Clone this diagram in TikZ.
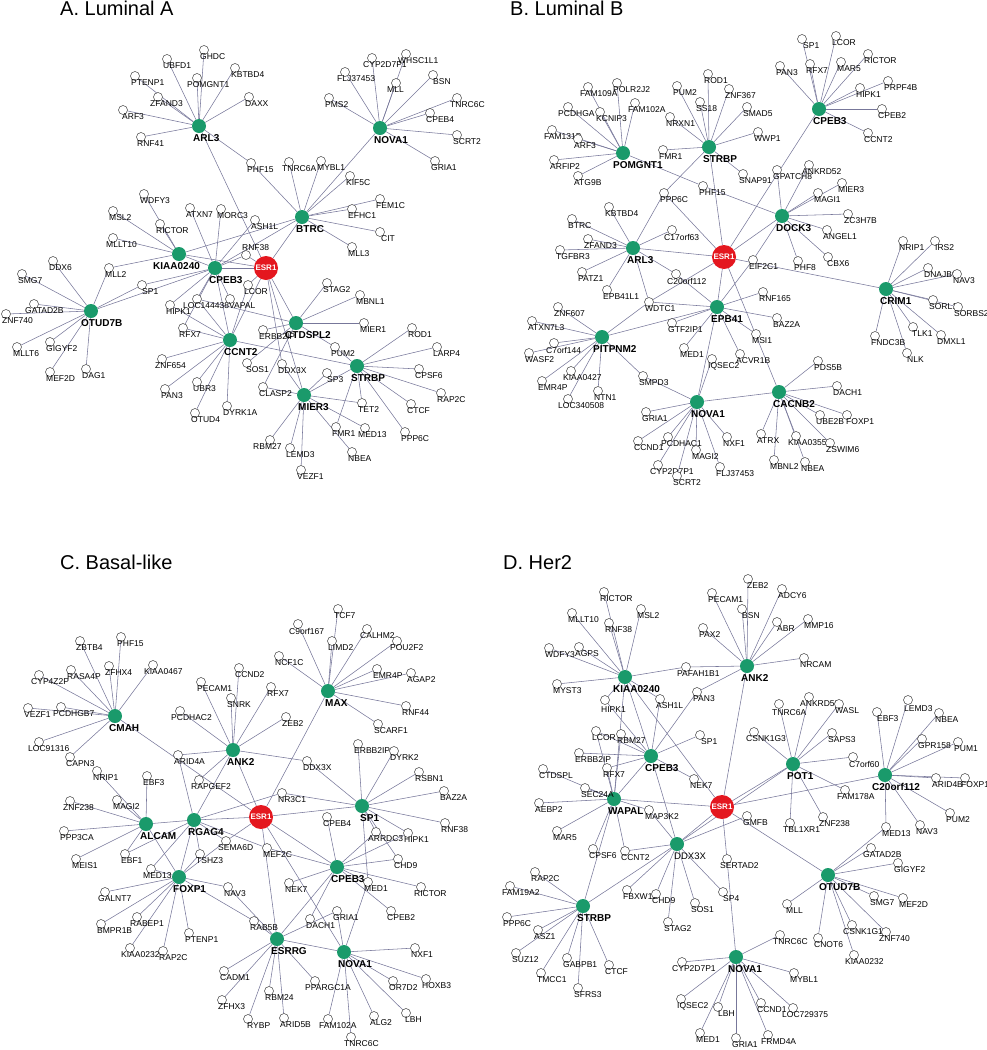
\documentclass[tikz,border=0pt]{standalone}
\usepackage{fontspec}
\setsansfont{Liberation Sans}
\usetikzlibrary{backgrounds}
\definecolor{hubgreen}{HTML}{1A9A6B}
\definecolor{esrred}{HTML}{E4171F}
\definecolor{edgegray}{HTML}{77779A}

\tikzset{
  leaf/.style={circle, draw=black!75, fill=white, line width=0.5pt, minimum size=9pt, inner sep=0pt},
  hubnode/.style={circle, fill=hubgreen, minimum size=14pt, inner sep=0pt},
  esr/.style={circle, fill=esrred, minimum size=24pt, inner sep=0pt, text=white,
    font=\sffamily\bfseries\fontsize{8}{8}\selectfont},
  glabel/.style={anchor=west, inner sep=0pt, font=\sffamily\fontsize{8.5}{9}\selectfont},
  hlabel/.style={anchor=west, inner sep=0pt, font=\sffamily\bfseries\fontsize{10}{11}\selectfont},
  plainhub/.style={font=\sffamily\fontsize{9.5}{10}\selectfont},
  panel/.style={anchor=base west, inner sep=0pt, font=\sffamily\fontsize{20}{22}\selectfont},
  link/.style={edgegray, line width=0.55pt},
}

% small gene: [label options]{name}{x}{y}{text}
\newcommand{\gene}[5][]{%
  \node[leaf] (#2) at (#3,#4) {};
  \node[glabel,#1] (#2-l) at ({#3-4},{#4+7}) {#5};}
% hub gene, label in bold below
\newcommand{\hub}[5][]{%
  \node[hubnode] (#2) at (#3,#4) {};
  \node[hlabel,#1] (#2-l) at ({#3-6},{#4+12}) {#5};}

\begin{document}
\begin{tikzpicture}[x=1pt, y=-1pt]
\useasboundingbox (0,0) rectangle (987,1050);

% ---------------- A. Luminal A
\node[panel] (a-title) at (60,15) {A. Luminal A};
\hub{a-arl3}{199}{126}{ARL3}
\hub{a-nova1}{380}{128}{NOVA1}
\hub{a-btrc}{302}{217}{BTRC}
\hub[xshift=-20pt]{a-kiaa0240}{179}{254}{KIAA0240}
\hub{a-cpeb3}{215}{268}{CPEB3}
\node[esr] (a-esr1) at (266,268) {ESR1};
\hub[xshift=-4pt]{a-otud7b}{91}{311}{OTUD7B}
\hub[xshift=-5pt]{a-ctdspl2}{296}{323}{CTDSPL2}
\hub{a-ccnt2}{230}{340}{CCNT2}
\hub{a-strbp}{357}{366}{STRBP}
\hub{a-mier3}{304}{395}{MIER3}

\gene{a-ghdc}{204}{50}{GHDC}
\gene{a-ubfd1}{167}{59}{UBFD1}
\gene{a-kbtbd4}{235}{68}{KBTBD4}
\gene{a-ptenp1}{135}{76}{PTENP1}
\gene[xshift=-6pt]{a-pomgnt1}{197}{78}{POMGNT1}
\gene[xshift=-4pt]{a-zfand3}{158}{97}{ZFAND3}
\gene{a-daxx}{249}{97}{DAXX}
\gene[xshift=3pt]{a-arf3}{123}{110}{ARF3}
\gene{a-rnf41}{141}{137}{RNF41}
\gene[xshift=-5pt]{a-cyp2d7p1}{372}{58}{CYP2D7P1}
\gene[xshift=-4pt]{a-whsc1l1}{406}{54}{WHSC1L1}
\gene[xshift=-4pt]{a-flj37453}{345}{72}{FLJ37453}
\gene[xshift=4pt]{a-bsn}{433}{75}{BSN}
\gene[xshift=-5pt]{a-mll}{396}{83}{MLL}
\gene{a-pms2}{329}{98}{PMS2}
\gene[xshift=-3pt]{a-tnrc6c}{457}{98}{TNRC6C}
\gene{a-cpeb4}{430}{113}{CPEB4}
\gene{a-scrt2}{457}{135}{SCRT2}
\gene{a-gria1}{435}{161}{GRIA1}
\gene{a-phf15}{251}{163}{PHF15}
\gene[xshift=-3pt]{a-tnrc6a}{289}{162}{TNRC6A}
\gene{a-mybl1}{321}{161}{MYBL1}
\gene{a-kif5c}{350}{176}{KIF5C}
\gene{a-fem1c}{380}{199}{FEM1C}
\gene{a-efhc1}{352}{209}{EFHC1}
\gene[xshift=5pt]{a-cit}{380}{232}{CIT}
\gene{a-mll3}{352}{247}{MLL3}
\gene{a-wdfy3}{144}{194}{WDFY3}
\gene{a-msl2}{113}{211}{MSL2}
\gene{a-atxn7}{190}{208}{ATXN7}
\gene{a-morc3}{221}{209}{MORC3}
\gene{a-ash1l}{255}{220}{ASH1L}
\gene{a-rictor}{160}{224}{RICTOR}
\gene[xshift=-3pt]{a-mllt10}{113}{238}{MLLT10}
\gene[yshift=14pt]{a-rnf38}{246}{255}{RNF38}
\gene{a-mll2}{109}{268}{MLL2}
\gene{a-ddx6}{53}{261}{DDX6}
\gene{a-smg7}{22}{274}{SMG7}
\gene{a-stag2}{327}{283}{STAG2}
\gene[xshift=4pt]{a-sp1}{142}{285}{SP1}
\gene{a-lcor}{248}{285}{LCOR}
\gene{a-mbnl1}{360}{295}{MBNL1}
\gene[xshift=-5pt]{a-gatad2b}{34}{304}{GATAD2B}
\gene{a-znf740}{6}{314}{ZNF740}
\gene{a-hipk1}{170}{305}{HIPK1}
\gene[xshift=-10pt]{a-loc144438}{197}{299}{LOC144438}
\gene[xshift=3pt]{a-vapal}{230}{299}{VAPAL}
\gene{a-mier1}{364}{323}{MIER1}
\gene{a-rfx7}{183}{328}{RFX7}
\gene{a-erbb2ip}{263}{330}{ERBB2IP}
\gene{a-rod1}{412}{328}{ROD1}
\gene{a-larp4}{437}{347}{LARP4}
\gene{a-pum2}{335}{347}{PUM2}
\gene[xshift=-3pt]{a-znf654}{162}{359}{ZNF654}
\gene[xshift=3pt]{a-sos1}{247}{363}{SOS1}
\gene{a-ddx3x}{282}{364}{DDX3X}
\gene{a-cpsf6}{419}{369}{CPSF6}
\gene[xshift=4pt]{a-sp3}{327}{373}{SP3}
\gene{a-mllt6}{17}{347}{MLLT6}
\gene{a-gigyf2}{50}{342}{GIGYF2}
\gene{a-mef2d}{50}{372}{MEF2D}
\gene{a-dag1}{86}{369}{DAG1}
\gene{a-pan3}{165}{389}{PAN3}
\gene{a-ubr3}{197}{382}{UBR3}
\gene{a-clasp2}{263}{387}{CLASP2}
\gene{a-rap2c}{441}{393}{RAP2C}
\gene{a-tet2}{362}{403}{TET2}
\gene{a-ctcf}{411}{404}{CTCF}
\gene{a-otud4}{195}{413}{OTUD4}
\gene{a-dyrk1a}{227}{406}{DYRK1A}
\gene{a-fmr1}{336}{427}{FMR1}
\gene[xshift=-3pt]{a-med13}{365}{428}{MED13}
\gene{a-ppp6c}{405}{432}{PPP6C}
\gene[xshift=-13pt]{a-rbm27}{270}{440}{RBM27}
\gene{a-lemd3}{290}{448}{LEMD3}
\gene{a-vezf1}{301}{470}{VEZF1}
\gene{a-nbea}{352}{452}{NBEA}

% ---------------- B. Luminal B
\node[panel] (b-title) at (510,15) {B. Luminal B};
\hub{b-cpeb3}{819}{109}{CPEB3}
\hub{b-strbp}{709}{147}{STRBP}
\hub[xshift=-4pt]{b-pomgnt1}{623}{153}{POMGNT1}
\hub{b-dock3}{782}{216}{DOCK3}
\hub{b-arl3}{633}{248}{ARL3}
\node[esr] (b-esr1) at (724,257) {ESR1};
\hub{b-crim1}{886}{289}{CRIM1}
\hub{b-epb41}{717}{307}{EPB41}
\hub[xshift=-3pt]{b-pitpnm2}{602}{337}{PITPNM2}
\hub{b-cacnb2}{779}{392}{CACNB2}
\hub{b-nova1}{697}{402}{NOVA1}

\gene[xshift=5pt]{b-sp1}{802}{39}{SP1}
\gene{b-lcor}{836}{36}{LCOR}
\gene{b-rictor}{868}{54}{RICTOR}
\gene{b-pan3}{780}{66}{PAN3}
\gene{b-rfx7}{810}{64}{RFX7}
\gene{b-mar5}{841}{62}{MAR5}
\gene{b-prpf4b}{888}{81}{PRPF4B}
\gene{b-hipk1}{860}{88}{HIPK1}
\gene{b-cpeb2}{882}{109}{CPEB2}
\gene{b-ccnt2}{868}{133}{CCNT2}
\gene{b-rod1}{708}{74}{ROD1}
\gene{b-pum2}{677}{86}{PUM2}
\gene{b-znf367}{729}{89}{ZNF367}
\gene{b-ss18}{700}{102}{SS18}
\gene{b-smad5}{747}{107}{SMAD5}
\gene{b-nrxn1}{670}{117}{NRXN1}
\gene{b-wwp1}{758}{132}{WWP1}
\gene{b-fmr1}{663}{150}{FMR1}
\gene[xshift=-4pt]{b-fam109a}{588}{87}{FAM109A}
\gene{b-polr2j2}{617}{83}{POLR2J2}
\gene[xshift=-6pt]{b-pcdhga}{568}{107}{PCDHGA}
\gene{b-kcnip3}{600}{112}{KCNIP3}
\gene[xshift=-3pt]{b-fam102a}{635}{103}{FAM102A}
\gene[xshift=-4pt]{b-fam131b}{552}{130}{FAM131B}
\gene{b-arf3}{578}{139}{ARF3}
\gene{b-arfip2}{554}{160}{ARFIP2}
\gene{b-atg9b}{578}{176}{ATG9B}
\gene{b-snap91}{743}{174}{SNAP91}
\gene{b-gpatch8}{777}{170}{GPATCH8}
\gene[xshift=-3pt]{b-ankrd52}{809}{165}{ANKRD52}
\gene{b-mier3}{842}{183}{MIER3}
\gene{b-magi1}{818}{193}{MAGI1}
\gene{b-phf15}{703}{186}{PHF15}
\gene{b-ppp6c}{664}{193}{PPP6C}
\gene{b-zc3h7b}{848}{214}{ZC3H7B}
\gene{b-kbtbd4}{609}{207}{KBTBD4}
\gene{b-btrc}{572}{219}{BTRC}
\gene[xshift=-4pt]{b-c17orf63}{672}{230}{C17orf63}
\gene{b-angel1}{827}{230}{ANGEL1}
\gene{b-zfand3}{588}{239}{ZFAND3}
\gene{b-tgfbr3}{560}{250}{TGFBR3}
\gene{b-eif2c1}{753}{260}{EIF2C1}
\gene{b-phf8}{798}{261}{PHF8}
\gene[xshift=3pt]{b-cbx6}{828}{257}{CBX6}
\gene{b-nrip1}{903}{241}{NRIP1}
\gene[xshift=4pt]{b-irs2}{935}{241}{IRS2}
\gene{b-dnajb9}{928}{268}{DNAJB9}
\gene{b-nav3}{957}{274}{NAV3}
\gene{b-patz1}{582}{272}{PATZ1}
\gene[xshift=-5pt]{b-c20orf112}{676}{274}{C20orf112}
\gene{b-sorl1}{933}{300}{SORL1}
\gene{b-sorbs2}{958}{307}{SORBS2}
\gene{b-epb41l1}{607}{290}{EPB41L1}
\gene{b-rnf165}{763}{292}{RNF165}
\gene{b-wdtc1}{649}{302}{WDTC1}
\gene{b-znf607}{558}{307}{ZNF607}
\gene{b-atxn7l3}{532}{321}{ATXN7L3}
\gene[xshift=-4pt]{b-c7orf144}{554}{343}{C7orf144}
\gene{b-wasf2}{529}{353}{WASF2}
\gene{b-gtf2ip1}{672}{323}{GTF2IP1}
\gene{b-baz2a}{777}{318}{BAZ2A}
\gene{b-msi1}{756}{334}{MSI1}
\gene[xshift=3pt]{b-tlk1}{913}{327}{TLK1}
\gene{b-dmxl1}{941}{335}{DMXL1}
\gene{b-fndc3b}{875}{336}{FNDC3B}
\gene[xshift=4pt]{b-nlk}{907}{353}{NLK}
\gene{b-med1}{684}{348}{MED1}
\gene{b-acvr1b}{740}{354}{ACVR1B}
\gene{b-iqsec2}{712}{359}{IQSEC2}
\gene{b-pds5b}{818}{361}{PDS5B}
\gene[xshift=-4pt]{b-kiaa0427}{571}{371}{KIAA0427}
\gene{b-smpd3}{643}{376}{SMPD3}
\gene{b-emr4p}{542}{381}{EMR4P}
\gene{b-dach1}{837}{386}{DACH1}
\gene{b-ntn1}{598}{391}{NTN1}
\gene[xshift=-6pt]{b-loc340508}{568}{399}{LOC340508}
\gene{b-gria1}{646}{412}{GRIA1}
\gene{b-ube2b}{820}{415}{UBE2B}
\gene[xshift=3pt]{b-foxp1}{847}{415}{FOXP1}
\gene{b-atrx}{761}{434}{ATRX}
\gene[xshift=-4pt]{b-kiaa0355}{796}{436}{KIAA0355}
\gene{b-zswim6}{830}{443}{ZSWIM6}
\gene{b-ccnd1}{638}{441}{CCND1}
\gene[xshift=-3pt]{b-pcdhac1}{668}{437}{PCDHAC1}
\gene{b-nxf1}{727}{437}{NXF1}
\gene{b-magi2}{696}{450}{MAGI2}
\gene{b-mbnl2}{774}{460}{MBNL2}
\gene{b-nbea}{805}{462}{NBEA}
\gene[xshift=-4pt]{b-cyp2d7p1}{658}{465}{CYP2D7P1}
\gene{b-flj37453}{720}{467}{FLJ37453}
\gene{b-scrt2}{677}{476}{SCRT2}

% ---------------- C. Basal-like
\node[panel] (c-title) at (60,569) {C. Basal-like};
\hub[xshift=3pt]{c-max}{328}{691}{MAX}
\hub{c-cmah}{115}{716}{CMAH}
\hub{c-ank2}{233}{750}{ANK2}
\hub[xshift=4pt]{c-sp1}{362}{806}{SP1}
\node[esr] (c-esr1) at (261,817) {ESR1};
\hub{c-rgag4}{194}{820}{RGAG4}
\hub{c-alcam}{146}{824}{ALCAM}
\hub{c-foxp1}{179}{877}{FOXP1}
\hub{c-cpeb3}{337}{867}{CPEB3}
\hub{c-esrrg}{277}{939}{ESRRG}
\hub{c-nova1}{344}{952}{NOVA1}

\gene{c-tcf7}{338}{609}{TCF7}
\gene[xshift=-5pt]{c-c9orf167}{298}{624}{C9orf167}
\gene[xshift=-3pt]{c-calhm2}{367}{629}{CALHM2}
\gene{c-limd2}{332}{641}{LIMD2}
\gene[xshift=-3pt]{c-pou2f2}{397}{641}{POU2F2}
\gene{c-zbtb4}{80}{641}{ZBTB4}
\gene{c-phf15}{121}{637}{PHF15}
\gene{c-ncf1c}{279}{656}{NCF1C}
\gene{c-rasa4p}{71}{670}{RASA4P}
\gene{c-zfhx4}{109}{666}{ZFHX4}
\gene[xshift=-5pt]{c-kiaa0467}{153}{665}{KIAA0467}
\gene[xshift=-4pt]{c-cyp4z2p}{39}{675}{CYP4Z2P}
\gene{c-ccnd2}{239}{668}{CCND2}
\gene{c-emr4p}{377}{669}{EMR4P}
\gene{c-agap2}{411}{673}{AGAP2}
\gene{c-pecam1}{201}{682}{PECAM1}
\gene{c-rfx7}{271}{687}{RFX7}
\gene{c-snrk}{231}{698}{SNRK}
\gene{c-rnf44}{406}{706}{RNF44}
\gene{c-vezf1}{28}{708}{VEZF1}
\gene[xshift=-4pt]{c-pcdhgb7}{61}{707}{PCDHGB7}
\gene[xshift=-5pt]{c-pcdhac2}{180}{711}{PCDHAC2}
\gene{c-zeb2}{286}{717}{ZEB2}
\gene{c-scarf1}{378}{724}{SCARF1}
\gene[xshift=-7pt]{c-loc91316}{39}{742}{LOC91316}
\gene{c-arid4a}{178}{755}{ARID4A}
\gene{c-ddx3x}{307}{761}{DDX3X}
\gene{c-erbb2ip}{358}{744}{ERBB2IP}
\gene{c-dyrk2}{394}{751}{DYRK2}
\gene{c-capn3}{70}{757}{CAPN3}
\gene{c-nrip1}{97}{771}{NRIP1}
\gene{c-rsbn1}{419}{772}{RSBN1}
\gene{c-ebf3}{147}{776}{EBF3}
\gene[xshift=-4pt]{c-rapgef2}{199}{780}{RAPGEF2}
\gene{c-baz2a}{444}{791}{BAZ2A}
\gene[xshift=-3pt]{c-znf238}{70}{801}{ZNF238}
\gene{c-magi2}{117}{800}{MAGI2}
\gene{c-nr3c1}{282}{793}{NR3C1}
\gene{c-cpeb4}{327}{817}{CPEB4}
\gene{c-ppp3ca}{64}{831}{PPP3CA}
\gene{c-rnf38}{445}{823}{RNF38}
\gene[xshift=-4pt]{c-arrdc3}{376}{832}{ARRDC3}
\gene{c-hipk1}{408}{833}{HIPK1}
\gene[xshift=-4pt]{c-sema6d}{226}{841}{SEMA6D}
\gene{c-mef2c}{267}{848}{MEF2C}
\gene{c-ebf1}{125}{854}{EBF1}
\gene{c-tshz3}{200}{854}{TSHZ3}
\gene{c-chd9}{398}{859}{CHD9}
\gene{c-meis1}{76}{859}{MEIS1}
\gene[xshift=-4pt]{c-med13}{151}{869}{MED13}
\gene{c-nav3}{228}{887}{NAV3}
\gene{c-nek7}{289}{883}{NEK7}
\gene{c-med1}{368}{882}{MED1}
\gene[xshift=-3pt]{c-rictor}{421}{887}{RICTOR}
\gene[xshift=-3pt]{c-galnt7}{105}{892}{GALNT7}
\gene{c-gria1}{337}{911}{GRIA1}
\gene{c-cpeb2}{391}{911}{CPEB2}
\gene[xshift=-3pt]{c-rabep1}{137}{917}{RABEP1}
\gene{c-dach1}{310}{919}{DACH1}
\gene{c-rab5b}{254}{921}{RAB5B}
\gene{c-bmpr1b}{101}{924}{BMPR1B}
\gene{c-ptenp1}{189}{933}{PTENP1}
\gene{c-nxf1}{415}{948}{NXF1}
\gene[xshift=-5pt]{c-kiaa0232}{130}{948}{KIAA0232}
\gene{c-rap2c}{163}{951}{RAP2C}
\gene{c-cadm1}{224}{971}{CADM1}
\gene{c-or7d2}{393}{981}{OR7D2}
\gene{c-hoxb3}{426}{979}{HOXB3}
\gene[xshift=-6pt]{c-ppargc1a}{315}{981}{PPARGC1A}
\gene{c-rbm24}{269}{991}{RBM24}
\gene{c-zfhx3}{222}{1000}{ZFHX3}
\gene{c-alg2}{374}{1016}{ALG2}
\gene[xshift=3pt]{c-lbh}{406}{1013}{LBH}
\gene[xshift=3pt]{c-rybp}{248}{1019}{RYBP}
\gene{c-arid5b}{284}{1018}{ARID5B}
\gene[xshift=-5pt]{c-fam102a}{328}{1019}{FAM102A}
\gene[xshift=-3pt]{c-tnrc6c}{351}{1037}{TNRC6C}

% ---------------- D. Her2
\node[panel] (d-title) at (503,569) {D. Her2};
\hub{d-ank2}{747}{666}{ANK2}
\hub[xshift=-6pt]{d-kiaa0240}{625}{677}{KIAA0240}
\hub{d-cpeb3}{651}{756}{CPEB3}
\hub{d-pot1}{793}{764}{POT1}
\hub[xshift=-7pt]{d-c20orf112}{885}{775}{C20orf112}
\hub{d-wapal}{614}{799}{WAPAL}
\node[esr] (d-esr1) at (722,807) {ESR1};
\hub[xshift=3pt, plainhub]{d-ddx3x}{677}{844}{DDX3X}
\hub[xshift=-3pt]{d-otud7b}{828}{875}{OTUD7B}
\hub{d-strbp}{583}{906}{STRBP}
\hub[xshift=-2pt]{d-nova1}{736}{957}{NOVA1}

\gene[xshift=3pt]{d-zeb2}{748}{579}{ZEB2}
\gene{d-rictor}{604}{592}{RICTOR}
\gene{d-pecam1}{712}{593}{PECAM1}
\gene{d-adcy6}{782}{589}{ADCY6}
\gene{d-mllt10}{572}{613}{MLLT10}
\gene{d-msl2}{641}{609}{MSL2}
\gene[xshift=4pt]{d-bsn}{742}{609}{BSN}
\gene{d-rnf38}{609}{623}{RNF38}
\gene[xshift=4pt]{d-abr}{777}{622}{ABR}
\gene{d-mmp16}{808}{619}{MMP16}
\gene{d-pax2}{703}{628}{PAX2}
\gene{d-wdfy3}{549}{648}{WDFY3}
\gene{d-agps}{579}{647}{AGPS}
\gene{d-nrcam}{804}{658}{NRCAM}
\gene[xshift=-5pt]{d-pafah1b1}{686}{667}{PAFAH1B1}
\gene{d-myst3}{557}{684}{MYST3}
\gene{d-pan3}{697}{692}{PAN3}
\gene{d-ash1l}{660}{699}{ASH1L}
\gene[yshift=-3pt]{d-hipk1}{605}{700}{HIPK1}
\gene[xshift=-5pt]{d-ankrd50}{809}{697}{ANKRD50}
\gene[xshift=-3pt,yshift=-2pt]{d-tnrc6a}{779}{704}{TNRC6A}
\gene{d-wasl}{839}{704}{WASL}
\gene[xshift=4pt]{d-ebf3}{877}{712}{EBF3}
\gene[yshift=-2pt]{d-lemd3}{908}{700}{LEMD3}
\gene{d-nbea}{939}{713}{NBEA}
\gene{d-lcor}{596}{731}{LCOR}
\gene{d-rbm27}{621}{734}{RBM27}
\gene[xshift=5pt]{d-sp1}{700}{735}{SP1}
\gene[xshift=-4pt]{d-csnk1g3}{754}{732}{CSNK1G3}
\gene{d-saps3}{832}{733}{SAPS3}
\gene{d-gpr158}{922}{739}{GPR158}
\gene{d-pum1}{958}{742}{PUM1}
\gene{d-erbb2ip}{579}{753}{ERBB2IP}
\gene{d-c7orf60}{853}{757}{C7orf60}
\gene{d-ctdspl}{543}{769}{CTDSPL}
\gene{d-rfx7}{607}{768}{RFX7}
\gene{d-nek7}{694}{779}{NEK7}
\gene{d-arid4b}{936}{778}{ARID4B}
\gene{d-foxp1}{965}{778}{FOXP1}
\gene{d-sec24a}{585}{788}{SEC24A}
\gene[xshift=-4pt]{d-fam178a}{845}{790}{FAM178A}
\gene{d-aebp2}{539}{803}{AEBP2}
\gene{d-map3k2}{649}{810}{MAP3K2}
\gene{d-gmfb}{747}{816}{GMFB}
\gene[xshift=-3pt]{d-tbl1xr1}{790}{823}{TBL1XR1}
\gene{d-znf238}{823}{817}{ZNF238}
\gene{d-pum2}{950}{813}{PUM2}
\gene{d-nav3}{920}{825}{NAV3}
\gene{d-med13}{886}{827}{MED13}
\gene{d-mar5}{557}{831}{MAR5}
\gene[xshift=-4pt]{d-gatad2b}{871}{848}{GATAD2B}
\gene{d-cpsf6}{593}{849}{CPSF6}
\gene{d-ccnt2}{625}{851}{CCNT2}
\gene[xshift=-3pt]{d-sertad2}{727}{859}{SERTAD2}
\gene{d-gigyf2}{898}{863}{GIGYF2}
\gene{d-rap2c}{535}{872}{RAP2C}
\gene[xshift=-4pt]{d-fam19a2}{510}{886}{FAM19A2}
\gene{d-fbxw11}{627}{890}{FBXW11}
\gene{d-chd9}{656}{894}{CHD9}
\gene{d-sos1}{695}{903}{SOS1}
\gene[xshift=4pt]{d-sp4}{723}{892}{SP4}
\gene[xshift=3pt]{d-mll}{787}{904}{MLL}
\gene{d-smg7}{874}{896}{SMG7}
\gene{d-mef2d}{903}{898}{MEF2D}
\gene{d-ppp6c}{507}{917}{PPP6C}
\gene{d-asz1}{538}{930}{ASZ1}
\gene{d-stag2}{668}{922}{STAG2}
\gene[xshift=-5pt]{d-csnk1g1}{852}{925}{CSNK1G1}
\gene[xshift=-3pt]{d-znf740}{886}{932}{ZNF740}
\gene[xshift=-3pt]{d-tnrc6c}{780}{935}{TNRC6C}
\gene{d-cnot6}{818}{938}{CNOT6}
\gene{d-suz12}{516}{953}{SUZ12}
\gene[xshift=-5pt]{d-kiaa0232}{854}{955}{KIAA0232}
\gene{d-gabpb1}{567}{958}{GABPB1}
\gene[xshift=-6pt]{d-cyp2d7p1}{682}{962}{CYP2D7P1}
\gene{d-ctcf}{609}{965}{CTCF}
\gene{d-mybl1}{794}{973}{MYBL1}
\gene{d-tmcc1}{541}{973}{TMCC1}
\gene{d-sfrs3}{578}{988}{SFRS3}
\gene{d-iqsec2}{681}{999}{IQSEC2}
\gene[xshift=4pt]{d-lbh}{718}{1007}{LBH}
\gene{d-ccnd1}{761}{1003}{CCND1}
\gene[xshift=-7pt]{d-loc729375}{793}{1008}{LOC729375}
\gene{d-med1}{700}{1033}{MED1}
\gene[xshift=-3pt]{d-frmd4a}{768}{1035}{FRMD4A}
\gene{d-gria1}{736}{1038}{GRIA1}

% ---------------- interactions
\begin{scope}[on background layer]
  % A
  \foreach \m in {ghdc,ubfd1,kbtbd4,ptenp1,pomgnt1,zfand3,daxx,arf3,rnf41,phf15,esr1}
    \draw[link] (a-arl3) -- (a-\m);
  \foreach \m in {cyp2d7p1,whsc1l1,flj37453,bsn,mll,pms2,tnrc6c,cpeb4,scrt2,gria1,btrc}
    \draw[link] (a-nova1) -- (a-\m);
  \foreach \m in {phf15,tnrc6a,mybl1,kif5c,fem1c,efhc1,cit,mll3,esr1,cpeb3,kiaa0240}
    \draw[link] (a-btrc) -- (a-\m);
  \foreach \m in {wdfy3,msl2,rictor,mllt10,mll2,cpeb3,esr1}
    \draw[link] (a-kiaa0240) -- (a-\m);
  \foreach \m in {atxn7,morc3,ash1l,rnf38,esr1,hipk1,loc144438,vapal,ccnt2,sp1,rfx7}
    \draw[link] (a-cpeb3) -- (a-\m);
  \foreach \m in {rnf38,lcor,ctdspl2,mier3,ccnt2,ddx3x}
    \draw[link] (a-esr1) -- (a-\m);
  \foreach \m in {ddx6,smg7,gatad2b,znf740,mllt6,gigyf2,mef2d,dag1,mll2,sp1,cpeb3}
    \draw[link] (a-otud7b) -- (a-\m);
  \foreach \m in {hipk1,loc144438,rfx7,znf654,pan3,ubr3,otud4,dyrk1a,strbp,lcor}
    \draw[link] (a-ccnt2) -- (a-\m);
  \foreach \m in {stag2,mbnl1,mier1,pum2,erbb2ip,sos1,clasp2,loc144438}
    \draw[link] (a-ctdspl2) -- (a-\m);
  \foreach \m in {rod1,larp4,cpsf6,rap2c,ctcf,ppp6c,tet2,fmr1,mier3,pum2}
    \draw[link] (a-strbp) -- (a-\m);
  \foreach \m in {sp3,med13,clasp2,ddx3x,rbm27,lemd3,vezf1,nbea,tet2}
    \draw[link] (a-mier3) -- (a-\m);
  % B
  \foreach \m in {sp1,lcor,rictor,pan3,rfx7,mar5,prpf4b,hipk1,cpeb2,ccnt2,esr1}
    \draw[link] (b-cpeb3) -- (b-\m);
  \foreach \m in {rod1,pum2,znf367,ss18,smad5,nrxn1,wwp1,fmr1,snap91,ppp6c,esr1}
    \draw[link] (b-strbp) -- (b-\m);
  \foreach \m in {fam109a,polr2j2,pcdhga,kcnip3,fam102a,fam131b,arf3,arfip2,atg9b,phf15}
    \draw[link] (b-pomgnt1) -- (b-\m);
  \foreach \m in {gpatch8,ankrd52,mier3,magi1,zc3h7b,angel1,cbx6,phf8,esr1,eif2c1,phf15}
    \draw[link] (b-dock3) -- (b-\m);
  \foreach \m in {kbtbd4,btrc,zfand3,tgfbr3,patz1,epb41l1,c17orf63,c20orf112,esr1,wdtc1,ppp6c}
    \draw[link] (b-arl3) -- (b-\m);
  \foreach \m in {ppp6c,crim1,epb41,cacnb2,wdtc1}
    \draw[link] (b-esr1) -- (b-\m);
  \foreach \m in {nrip1,irs2,dnajb9,nav3,sorl1,sorbs2,tlk1,dmxl1,fndc3b,nlk}
    \draw[link] (b-crim1) -- (b-\m);
  \foreach \m in {wdtc1,rnf165,baz2a,msi1,gtf2ip1,med1,acvr1b,nova1,pitpnm2,c20orf112,eif2c1}
    \draw[link] (b-epb41) -- (b-\m);
  \foreach \m in {znf607,atxn7l3,c7orf144,wasf2,kiaa0427,emr4p,ntn1,loc340508,smpd3,wdtc1}
    \draw[link] (b-pitpnm2) -- (b-\m);
  \foreach \m in {smpd3,gria1,ccnd1,pcdhac1,nxf1,magi2,cyp2d7p1,flj37453,scrt2,iqsec2,cacnb2}
    \draw[link] (b-nova1) -- (b-\m);
  \foreach \m in {pds5b,dach1,ube2b,foxp1,atrx,kiaa0355,zswim6,mbnl2,nbea}
    \draw[link] (b-cacnb2) -- (b-\m);
  % C
  \foreach \m in {zbtb4,phf15,rasa4p,zfhx4,kiaa0467,cyp4z2p,vezf1,pcdhgb7,loc91316,capn3,esr1}
    \draw[link] (c-cmah) -- (c-\m);
  \foreach \m in {tcf7,c9orf167,calhm2,limd2,pou2f2,ncf1c,emr4p,agap2,rnf44,scarf1,esr1}
    \draw[link] (c-max) -- (c-\m);
  \foreach \m in {pecam1,ccnd2,snrk,rfx7,pcdhac2,zeb2,arid4a,ddx3x,rapgef2,rgag4,esr1}
    \draw[link] (c-ank2) -- (c-\m);
  \foreach \m in {erbb2ip,dyrk2,rsbn1,baz2a,rnf38,hipk1,arrdc3,ddx3x,nr3c1,esr1,med1,chd9}
    \draw[link] (c-sp1) -- (c-\m);
  \foreach \m in {arid4a,alcam,esr1,nr3c1,sema6d,tshz3,foxp1,med13,mef2c,ebf1}
    \draw[link] (c-rgag4) -- (c-\m);
  \foreach \m in {ebf3,znf238,ppp3ca,nrip1,magi2,meis1,ebf1,foxp1}
    \draw[link] (c-alcam) -- (c-\m);
  \foreach \m in {med13,galnt7,bmpr1b,rabep1,kiaa0232,rap2c,ptenp1,rab5b,tshz3,sema6d,nav3}
    \draw[link] (c-foxp1) -- (c-\m);
  \foreach \m in {cpeb3,esrrg,nova1,sema6d}
    \draw[link] (c-esr1) -- (c-\m);
  \foreach \m in {cpeb4,arrdc3,hipk1,chd9,rictor,cpeb2,med1,nek7,dach1,esrrg,mef2c}
    \draw[link] (c-cpeb3) -- (c-\m);
  \foreach \m in {rab5b,nav3,gria1,nova1,cadm1,zfhx3,rybp,rbm24,arid5b,ppargc1a}
    \draw[link] (c-esrrg) -- (c-\m);
  \foreach \m in {gria1,med1,nxf1,hoxb3,or7d2,lbh,alg2,tnrc6c,fam102a}
    \draw[link] (c-nova1) -- (c-\m);
  % D
  \foreach \m in {rictor,mllt10,msl2,rnf38,wdfy3,agps,myst3,pafah1b1,hipk1,ash1l,cpeb3,esr1,wapal}
    \draw[link] (d-kiaa0240) -- (d-\m);
  \foreach \m in {zeb2,pecam1,adcy6,bsn,abr,mmp16,pax2,nrcam,pafah1b1,pan3,esr1}
    \draw[link] (d-ank2) -- (d-\m);
  \foreach \m in {pan3,hipk1,ash1l,lcor,rbm27,sp1,erbb2ip,rfx7,nek7,wapal,ddx3x}
    \draw[link] (d-cpeb3) -- (d-\m);
  \foreach \m in {ctdspl,sec24a,aebp2,mar5,cpsf6,ccnt2,rfx7,lcor,rbm27,esr1,strbp,map3k2}
    \draw[link] (d-wapal) -- (d-\m);
  \foreach \m in {map3k2,ccnt2,esr1,pot1,gmfb,fbxw11,chd9,sos1,stag2,sp4,strbp}
    \draw[link] (d-ddx3x) -- (d-\m);
  \foreach \m in {c20orf112,pot1,sertad2,otud7b}
    \draw[link] (d-esr1) -- (d-\m);
  \draw[link] (d-sertad2) -- (d-nova1);
  \foreach \m in {tnrc6a,ankrd50,wasl,csnk1g3,saps3,c7orf60,fam178a,tbl1xr1,znf238}
    \draw[link] (d-pot1) -- (d-\m);
  \foreach \m in {ebf3,lemd3,nbea,gpr158,pum1,arid4b,foxp1,pum2,nav3,med13}
    \draw[link] (d-c20orf112) -- (d-\m);
  \foreach \m in {med13,gatad2b,gigyf2,mll,smg7,mef2d,csnk1g1,znf740,cnot6,kiaa0232}
    \draw[link] (d-otud7b) -- (d-\m);
  \foreach \m in {rap2c,fam19a2,ppp6c,asz1,suz12,tmcc1,gabpb1,sfrs3,ctcf}
    \draw[link] (d-strbp) -- (d-\m);
  \foreach \m in {tnrc6c,cyp2d7p1,mybl1,iqsec2,lbh,ccnd1,loc729375,med1,gria1,frmd4a}
    \draw[link] (d-nova1) -- (d-\m);
\end{scope}
\end{tikzpicture}
\end{document}
